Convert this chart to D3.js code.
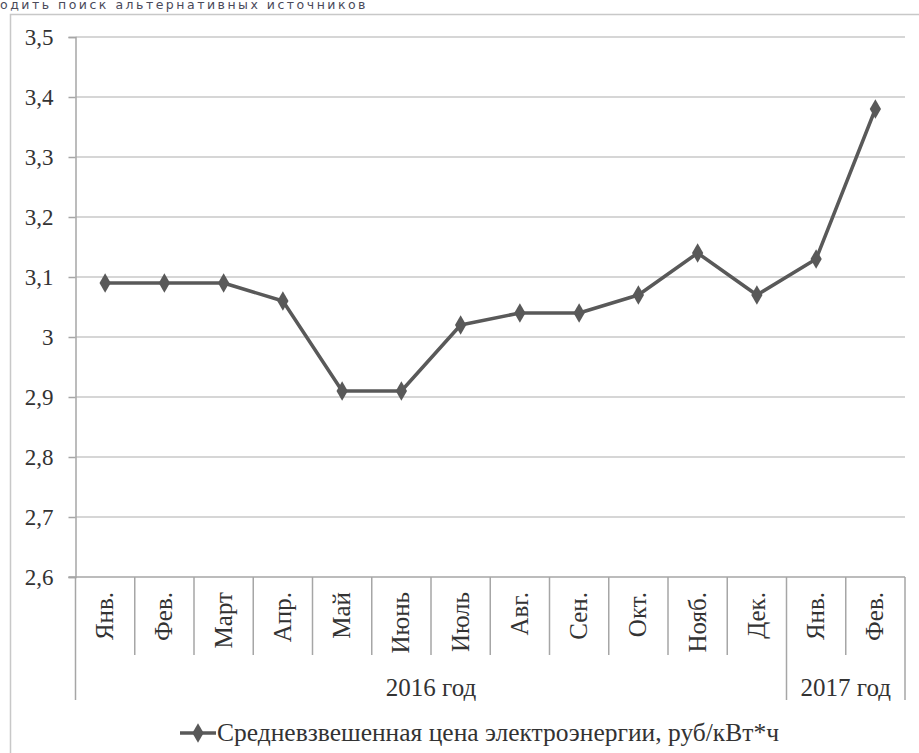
<!DOCTYPE html>
<html><head><meta charset="utf-8">
<script src="https://cdn.jsdelivr.net/npm/d3@7"></script>
<style>body{margin:0;background:#fff}svg{display:block}</style>
</head><body>
<script>
const months = ["Янв.","Фев.","Март","Апр.","Май","Июнь","Июль","Авг.","Сен.","Окт.","Нояб.","Дек.","Янв.","Фев."];
const years = [{label:"2016 год", start:0, end:12},{label:"2017 год", start:12, end:14}];
const values = [3.09,3.09,3.09,3.06,2.91,2.91,3.02,3.04,3.04,3.07,3.14,3.07,3.13,3.38];
const yTicks = [2.6,2.7,2.8,2.9,3.0,3.1,3.2,3.3,3.4,3.5];
const seriesName = "Средневзвешенная цена электроэнергии, руб/кВт*ч";
const headerText = "одить поиск альтернативных источников";

const W=919,H=753;
const SERIF='"Liberation Serif", "Times New Roman", Tinos, serif';
const svg=d3.select("body").append("svg").attr("width",W).attr("height",H);

svg.append("text").attr("x",0).attr("y",9).style("font-family",'"DejaVu Sans", sans-serif')
  .attr("font-size",12.5).attr("letter-spacing",2.5).attr("fill","#4a4a5a").text(headerText);

svg.append("rect").attr("x",10.5).attr("y",14.5).attr("width",930).attr("height",760)
  .attr("fill","none").attr("stroke","#c8c8c8").attr("stroke-width",1.5);

const L=75.5,R=905,T=37,B=577;
const x=d3.scaleBand().domain(d3.range(months.length)).range([L,R]);
const y=d3.scaleLinear().domain([2.6,3.5]).range([B,T]);

// gridlines
svg.append("g").selectAll("line").data(yTicks.slice(1)).join("line")
  .attr("x1",L).attr("x2",R).attr("y1",d=>y(d)).attr("y2",d=>y(d))
  .attr("stroke","#d6d6d6").attr("stroke-width",1.8);

// y axis
const fmt=d=>d3.format(".1f")(d).replace(".",",").replace(",0","");
const ya=svg.append("g").attr("transform",`translate(${L},0)`)
  .call(d3.axisLeft(y).tickValues(yTicks).tickSize(7).tickPadding(15).tickFormat(fmt));
ya.attr("font-family",null).attr("font-size",null);
ya.selectAll("path").attr("stroke","#a6a6a6").attr("stroke-width",1.5);
ya.selectAll("line").attr("stroke","#a6a6a6").attr("stroke-width",1.5);
ya.selectAll("text").style("font-family",SERIF).style("font-size","23px").attr("fill","#333");

// x axis baseline
svg.append("line").attr("x1",L-7).attr("x2",R).attr("y1",B).attr("y2",B)
  .attr("stroke","#a6a6a6").attr("stroke-width",1.5);

// separators
const boundaries=d3.range(months.length+1);
const yearBounds=new Set([0,12,14]);
svg.append("g").selectAll("line").data(boundaries).join("line")
  .attr("x1",i=>i<months.length?x(i):R).attr("x2",i=>i<months.length?x(i):R)
  .attr("y1",B).attr("y2",i=>yearBounds.has(i)?700:655)
  .attr("stroke","#a6a6a6").attr("stroke-width",1.5);

// month labels
svg.append("g").selectAll("text").data(months).join("text")
  .attr("transform",(d,i)=>`translate(${x(i)+x.bandwidth()/2+8},592) rotate(-90)`)
  .attr("text-anchor","end").style("font-family",SERIF).style("font-size","25px").attr("fill","#333")
  .text(d=>d);

// year labels
svg.append("g").selectAll("text").data(years).join("text")
  .attr("x",d=>((d.start<months.length?x(d.start):R)+(d.end<months.length?x(d.end):R))/2)
  .attr("y",696).attr("text-anchor","middle").style("font-family",SERIF).style("font-size","25px").attr("fill","#333")
  .text(d=>d.label);

// line
const line=d3.line().x((d,i)=>x(i)+x.bandwidth()/2).y(d=>y(d));
svg.append("path").datum(values).attr("d",line).attr("fill","none")
  .attr("stroke","#595959").attr("stroke-width",3.5).attr("stroke-linejoin","round");
const diamond=d3.symbol().type(d3.symbolDiamond).size(110);
svg.append("g").selectAll("path").data(values).join("path")
  .attr("transform",(d,i)=>`translate(${x(i)+x.bandwidth()/2},${y(d)})`)
  .attr("d",diamond).attr("fill","#595959");

// legend
const lg=svg.append("g").attr("transform","translate(180,733)");
lg.append("line").attr("x1",0).attr("x2",36).attr("y1",0).attr("y2",0).attr("stroke","#595959").attr("stroke-width",3.5);
lg.append("path").attr("transform","translate(18,0)").attr("d",diamond).attr("fill","#595959");
lg.append("text").attr("x",37).attr("y",8).style("font-family",SERIF).style("font-size","25.5px").attr("fill","#333").text(seriesName);
</script>
</body></html>
